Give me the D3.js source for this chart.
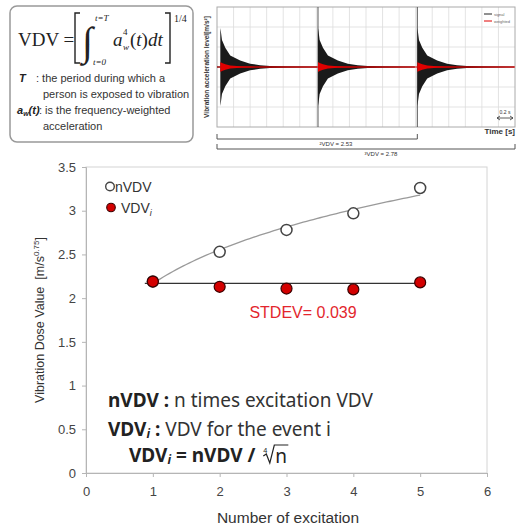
<!DOCTYPE html>
<html><head><meta charset="utf-8">
<script src="https://cdn.jsdelivr.net/npm/d3@7"></script>
<style>body{margin:0;background:#fff} svg{display:block}</style>
</head><body>
<svg id="c" width="517" height="527"></svg>
<script>
// ---------- main chart data ----------
const excitations = [1, 2, 3, 4, 5];
const nVDV = [2.19, 2.53, 2.78, 2.97, 3.26];
const VDVi = [2.19, 2.13, 2.11, 2.10, 2.18];
const vdviLevel = 2.17;          // horizontal reference line
const vdviLineRange = [0.88, 5];
const stdevLabel = "STDEV= 0.039";
const xTicks = [0, 1, 2, 3, 4, 5, 6];
const yTicks = [0, 0.5, 1, 1.5, 2, 2.5, 3, 3.5];

// ---------- waveform inset data ----------
const impactTimes = [0.02, 0.61, 1.21];          // s
const envTime  = [0, 0.003, 0.01, 0.03, 0.06, 0.12, 0.18, 0.24, 0.30, 0.40, 0.585];
const envAmp   = [0.65, 0.60, 0.45, 0.32, 0.19, 0.11, 0.055, 0.03, 0.018, 0.011, 0.009];
const redAmp   = [0.08, 0.08, 0.065, 0.045, 0.025, 0.012, 0.007, 0.005, 0.004, 0.004, 0.004];
const timeDomain = [0, 1.8];
const bracketEnds = [1.21, 1.80];
const bracketLabels = ["²VDV = 2.53", "³VDV = 2.78"];

const svg = d3.select("#c");
const SANS = "Arial, 'Liberation Sans', sans-serif";
const SERIF = "'Times New Roman', 'Liberation Serif', serif";
const NOTO = "'Noto Sans', 'Noto Sans CJK KR', sans-serif";

// ================= MAIN CHART =================
const x = d3.scaleLinear([0, 6], [86, 487]);
const y = d3.scaleLinear([0, 3.5], [473, 167]);

svg.append("rect").attr("x", x(0)).attr("y", y(3.5))
  .attr("width", x(6) - x(0)).attr("height", y(0) - y(3.5))
  .attr("fill", "none").attr("stroke", "#d4d4d4").attr("stroke-width", 1);

const yAx = svg.append("g").attr("transform", `translate(${x(0)},0)`)
  .call(d3.axisLeft(y).tickValues(yTicks).tickFormat(d3.format("~g")).tickSize(4).tickPadding(6));
const xAx = svg.append("g").attr("transform", `translate(0,${y(0)})`)
  .call(d3.axisBottom(x).tickValues(xTicks).tickFormat(d3.format("d")).tickSize(4).tickPadding(10));
[yAx, xAx].forEach(g => {
  g.select(".domain").attr("stroke", "#b5b5b5");
  g.selectAll(".tick line").attr("stroke", "#b5b5b5");
  g.selectAll("text").attr("font-family", SANS).attr("font-size", 13).attr("fill", "#444");
});

// power trendline fitted to nVDV
const lx = excitations.map(Math.log), ly = nVDV.map(Math.log);
const mx = d3.mean(lx), my = d3.mean(ly);
const b = d3.sum(lx, (v, i) => (v - mx) * (ly[i] - my)) / d3.sum(lx, v => (v - mx) ** 2);
const a = Math.exp(my - b * mx);
const curvePts = d3.range(1, 5.0001, 0.05).map(t => [t, a * Math.pow(t, b)]);
svg.append("path").datum(curvePts)
  .attr("d", d3.line().x(d => x(d[0])).y(d => y(d[1])))
  .attr("fill", "none").attr("stroke", "#9a9a9a").attr("stroke-width", 1.3);

svg.append("line")
  .attr("x1", x(vdviLineRange[0])).attr("x2", x(vdviLineRange[1]))
  .attr("y1", y(vdviLevel)).attr("y2", y(vdviLevel))
  .attr("stroke", "#333").attr("stroke-width", 1.3);

svg.selectAll(".nv").data(excitations).enter().append("circle")
  .attr("cx", d => x(d)).attr("cy", (d, i) => y(nVDV[i])).attr("r", 5.5)
  .attr("fill", "#fff").attr("stroke", "#444").attr("stroke-width", 1.5);
svg.selectAll(".vi").data(excitations).enter().append("circle")
  .attr("cx", d => x(d)).attr("cy", (d, i) => y(VDVi[i])).attr("r", 5.5)
  .attr("fill", "#d30000").attr("stroke", "#3a0000").attr("stroke-width", 1.2);

// legend
svg.append("circle").attr("cx", 110).attr("cy", 186.5).attr("r", 4.3)
  .attr("fill", "#fff").attr("stroke", "#444").attr("stroke-width", 1.4);
svg.append("text").attr("x", 115).attr("y", 191.5).attr("font-family", SANS)
  .attr("font-size", 14).attr("fill", "#333").text("nVDV");
svg.append("circle").attr("cx", 111).attr("cy", 207.5).attr("r", 4.3)
  .attr("fill", "#d30000").attr("stroke", "#3a0000").attr("stroke-width", 1.1);
const lg2 = svg.append("text").attr("x", 121).attr("y", 212.5).attr("font-family", SANS)
  .attr("font-size", 14).attr("fill", "#333");
lg2.append("tspan").text("VDV");
lg2.append("tspan").attr("dy", 3).attr("font-size", 9).attr("font-style", "italic").text("i");

svg.append("text").attr("x", 303).attr("y", 317.5).attr("text-anchor", "middle")
  .attr("font-family", SANS).attr("font-size", 16).attr("fill", "#e3262d").text(stdevLabel);

// annotations
const t1 = svg.append("text").attr("x", 108).attr("y", 407).attr("font-family", NOTO)
  .attr("font-size", 19).attr("fill", "#222");
t1.append("tspan").attr("font-weight", "bold").text("nVDV :");
t1.append("tspan").attr("fill", "#333").text("\u00a0n times excitation VDV");

const t2 = svg.append("text").attr("x", 108).attr("y", 436).attr("font-family", NOTO)
  .attr("font-size", 19).attr("fill", "#222");
t2.append("tspan").attr("font-weight", "bold").text("VDV");
t2.append("tspan").attr("font-weight", "bold").attr("font-style", "italic").attr("font-size", 12).attr("dy", 2).text("i");
t2.append("tspan").attr("font-weight", "bold").attr("dy", -2).text("\u00a0:");
t2.append("tspan").attr("fill", "#333").text("\u00a0VDV for the event i");

const t3 = svg.append("text").attr("x", 129).attr("y", 462).attr("font-family", NOTO)
  .attr("font-size", 19).attr("fill", "#222").attr("font-weight", "bold");
t3.append("tspan").text("VDV");
t3.append("tspan").attr("font-style", "italic").attr("font-size", 12).attr("dy", 2).text("i");
t3.append("tspan").attr("dy", -2).text("\u00a0= nVDV /\u00a0");
const t3end = 129 + t3.node().getComputedTextLength();
// fourth root of n
const rx0 = t3end + 3, rb = 462;
svg.append("text").attr("x", rx0).attr("y", rb - 9).attr("font-family", NOTO)
  .attr("font-size", 7).attr("fill", "#222").text("4");
svg.append("path")
  .attr("d", `M${rx0},${rb - 6} L${rx0 + 3},${rb - 8} L${rx0 + 6.5},${rb + 1} L${rx0 + 11},${rb - 17} L${rx0 + 25},${rb - 17}`)
  .attr("fill", "none").attr("stroke", "#222").attr("stroke-width", 1.2);
svg.append("text").attr("x", rx0 + 12).attr("y", rb + 1).attr("font-family", NOTO)
  .attr("font-size", 19).attr("fill", "#222").text("n");

// axis titles
const yt = svg.append("text").attr("transform", `translate(44,${(y(0) + y(3.5)) / 2}) rotate(-90)`)
  .attr("text-anchor", "middle").attr("font-family", SANS).attr("font-size", 12.5).attr("fill", "#333");
yt.append("tspan").text("Vibration Dose Value\u00a0\u00a0[m/s");
yt.append("tspan").attr("font-size", 8).attr("dy", -5).text("0.75");
yt.append("tspan").attr("dy", 5).text("]");

svg.append("text").attr("x", 288).attr("y", 523).attr("text-anchor", "middle")
  .attr("font-family", SANS).attr("font-size", 15.5).attr("fill", "#333").text("Number of excitation");

// ================= FORMULA BOX =================
svg.append("rect").attr("x", 10).attr("y", 6).attr("width", 183).attr("height", 136).attr("rx", 7)
  .attr("fill", "#fff").attr("stroke", "#999").attr("stroke-width", 1.5);
svg.append("text").attr("x", 18).attr("y", 46).attr("font-family", SERIF).attr("font-size", 19)
  .attr("fill", "#222").text("VDV =");
svg.append("path").attr("d", "M80,13 H75 V63 H80").attr("fill", "none").attr("stroke", "#222").attr("stroke-width", 1.4);
svg.append("path").attr("d", "M165,13 H170 V63 H165").attr("fill", "none").attr("stroke", "#222").attr("stroke-width", 1.4);
svg.append("text").attr("x", 82).attr("y", 55).attr("font-family", SERIF).attr("font-size", 40)
  .attr("fill", "#222").text("\u222B");
svg.append("text").attr("x", 95).attr("y", 21).attr("font-family", SERIF).attr("font-size", 9)
  .attr("font-style", "italic").attr("fill", "#222").text("t=T");
svg.append("text").attr("x", 93).attr("y", 65).attr("font-family", SERIF).attr("font-size", 9)
  .attr("font-style", "italic").attr("fill", "#222").text("t=0");
svg.append("text").attr("x", 113).attr("y", 46).attr("font-family", SERIF).attr("font-size", 19)
  .attr("font-style", "italic").attr("fill", "#222").text("a");
svg.append("text").attr("x", 123).attr("y", 35).attr("font-family", SERIF).attr("font-size", 9)
  .attr("fill", "#222").text("4");
svg.append("text").attr("x", 123).attr("y", 50).attr("font-family", SERIF).attr("font-size", 9)
  .attr("font-style", "italic").attr("fill", "#222").text("w");
const ft = svg.append("text").attr("x", 130).attr("y", 46).attr("font-family", SERIF).attr("font-size", 19).attr("fill", "#222");
ft.append("tspan").text("(");
ft.append("tspan").attr("font-style", "italic").text("t");
ft.append("tspan").text(")");
ft.append("tspan").attr("font-style", "italic").text("dt");
svg.append("text").attr("x", 174).attr("y", 22).attr("font-family", SERIF).attr("font-size", 10)
  .attr("fill", "#222").text("1/4");

const desc = [
  {x: 19, y: 82, lead: "T", sub: "", text: " : the period during which a", tx: 36},
  {x: 43, y: 98, lead: "", sub: "", text: "person is exposed to vibration", tx: 43},
  {x: 17, y: 114, lead: "a", sub: "w", text: ": is the frequency-weighted", tx: 39},
  {x: 43, y: 130, lead: "", sub: "", text: "acceleration", tx: 43}
];
desc.forEach(d => {
  if (d.lead) {
    const L = svg.append("text").attr("x", d.x).attr("y", d.y).attr("font-family", SANS)
      .attr("font-size", 11).attr("font-weight", "bold").attr("font-style", "italic").attr("fill", "#222");
    L.append("tspan").text(d.lead);
    if (d.sub) {
      L.append("tspan").attr("font-size", 7).attr("dy", 2).text(d.sub);
      L.append("tspan").attr("dy", -2).text("(t)");
    }
  }
  svg.append("text").attr("x", d.tx).attr("y", d.y).attr("font-family", SANS)
    .attr("font-size", 11).attr("fill", "#333").text(d.text);
});

// ================= WAVEFORM INSET =================
const wx = d3.scaleLinear(timeDomain, [217, 515]);
const wy = d3.scaleLinear([-1, 1], [127, 7]);
const wg = svg.append("g");
d3.range(0.1, 1.79, 0.1).forEach(t => wg.append("line")
  .attr("x1", wx(t)).attr("x2", wx(t)).attr("y1", wy(-1)).attr("y2", wy(1))
  .attr("stroke", "#dcdcdc").attr("stroke-width", 0.8));
d3.range(1, 6).forEach(k => { const v = -1 + k / 3; wg.append("line")
  .attr("x1", wx(0)).attr("x2", wx(1.8)).attr("y1", wy(v)).attr("y2", wy(v))
  .attr("stroke", "#dcdcdc").attr("stroke-width", 0.8); });
wg.append("rect").attr("x", wx(0)).attr("y", wy(1)).attr("width", wx(1.8) - wx(0)).attr("height", wy(-1) - wy(1))
  .attr("fill", "none").attr("stroke", "#aaa").attr("stroke-width", 1);

impactTimes.slice(1).forEach(t => wg.append("line")
  .attr("x1", wx(t)).attr("x2", wx(t)).attr("y1", wy(1)).attr("y2", wy(-1))
  .attr("stroke", "#555").attr("stroke-width", 1));

const area = d3.area().x(d => wx(d[0])).y0(d => wy(-d[1])).y1(d => wy(d[1]));
wg.append("line").attr("x1", wx(0)).attr("x2", wx(impactTimes[0])).attr("y1", wy(0)).attr("y2", wy(0))
  .attr("stroke", "#111").attr("stroke-width", 1);
impactTimes.forEach(t0 => {
  const pts = envTime.map((dt, i) => [t0 + dt, envAmp[i]]);
  wg.append("path").datum(pts).attr("d", area).attr("fill", "#1a1a1a");
});
wg.append("line").attr("x1", wx(0)).attr("x2", wx(1.8)).attr("y1", wy(0)).attr("y2", wy(0))
  .attr("stroke", "#e00000").attr("stroke-width", 1);
impactTimes.forEach(t0 => {
  const pts = envTime.map((dt, i) => [t0 + dt, redAmp[i]]);
  wg.append("path").datum(pts).attr("d", area).attr("fill", "#e00000");
});

// inset legend
wg.append("line").attr("x1", 484).attr("x2", 492).attr("y1", 14).attr("y2", 14).attr("stroke", "#222").attr("stroke-width", 1);
wg.append("text").attr("x", 494).attr("y", 15.5).attr("font-family", SANS).attr("font-size", 4).attr("fill", "#666").text("signal");
wg.append("line").attr("x1", 484).attr("x2", 492).attr("y1", 21).attr("y2", 21).attr("stroke", "#e00000").attr("stroke-width", 1);
wg.append("text").attr("x", 494).attr("y", 22.5).attr("font-family", SANS).attr("font-size", 4).attr("fill", "#666").text("weighted");

// scale bar
wg.append("text").attr("x", 505).attr("y", 114).attr("text-anchor", "middle").attr("font-family", SANS)
  .attr("font-size", 5).attr("fill", "#333").text("0.2 s");
wg.append("path").attr("d", "M497,118 H513 M497,118 l3,-2 M497,118 l3,2 M513,118 l-3,-2 M513,118 l-3,2")
  .attr("stroke", "#333").attr("stroke-width", 0.8).attr("fill", "none");

wg.append("text").attr("transform", `translate(209,${wy(0)}) rotate(-90)`).attr("text-anchor", "middle")
  .attr("font-family", SANS).attr("font-size", 6.5).attr("font-weight", "bold").attr("fill", "#333")
  .text("Vibration acceleration level[m/s²]");
wg.append("text").attr("x", 515).attr("y", 134).attr("text-anchor", "end").attr("font-family", SANS)
  .attr("font-size", 8).attr("font-weight", "bold").attr("fill", "#333").text("Time [s]");

// brackets
const bracketY = [139, 149];
bracketEnds.forEach((te, i) => {
  const by = bracketY[i];
  wg.append("path").attr("d", `M${wx(0)},${by - 5} V${by} H${wx(te)} V${by - 5}`)
    .attr("fill", "none").attr("stroke", "#555").attr("stroke-width", 1);
});
wg.append("text").attr("x", 336).attr("y", 145.5).attr("text-anchor", "middle").attr("font-family", SANS)
  .attr("font-size", 6).attr("fill", "#333").text(bracketLabels[0]);
wg.append("text").attr("x", 381).attr("y", 155.5).attr("text-anchor", "middle").attr("font-family", SANS)
  .attr("font-size", 6).attr("fill", "#333").text(bracketLabels[1]);
</script>
</body></html>
